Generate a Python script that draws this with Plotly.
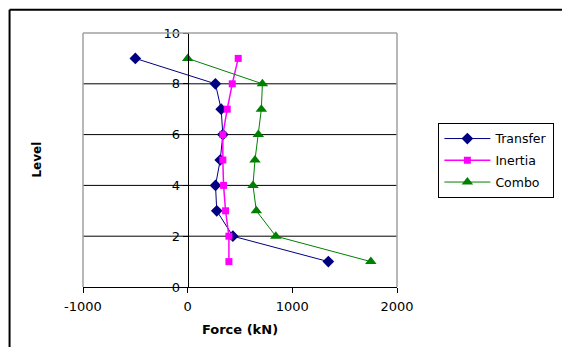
import plotly.graph_objects as go

# Storey levels and force distributions (kN)
levels = [9, 8, 7, 6, 5, 4, 3, 2, 1]
transfer = [-500, 265, 320, 336, 311, 266, 278, 432, 1344]
inertia = [483, 426, 378, 336, 336, 343, 362, 394, 394]
combo = [0, 714, 704, 675, 643, 624, 656, 842, 1750]

x_ticks = [-1000, 0, 1000, 2000]
y_ticks = [0, 2, 4, 6, 8, 10]

W, H = 562, 347
L, R, T, B = 83.3, 165.3, 33.3, 60.3
pw, ph = W - L - R, H - T - B


def px(x):
    return (x - L) / pw


def py(y):
    return (H - B - y) / ph


font = "DejaVu Sans, Arial, sans-serif"

fig = go.Figure()
fig.add_trace(go.Scatter(
    x=transfer, y=levels, name="Transfer", mode="lines+markers", legendgroup="a",
    line=dict(color="#000080", width=1),
    marker=dict(symbol="diamond", size=9, color="#000080"),
))
fig.add_trace(go.Scatter(
    x=inertia, y=levels, name="Inertia", mode="lines+markers", legendgroup="b",
    line=dict(color="#FF00FF", width=1.5),
    marker=dict(symbol="square", size=7, color="#FF00FF"),
))
fig.add_trace(go.Scatter(
    x=combo, y=levels, name="Combo", mode="lines+markers", legendgroup="c",
    line=dict(color="#008000", width=1),
    marker=dict(symbol="triangle-up", size=10, color="#008000"),
))

gray = "#A0A0A0"
shapes = []
# horizontal gridlines at the interior ticks
for v in y_ticks[1:-1]:
    shapes.append(dict(type="line", xref="paper", yref="y", x0=0, x1=1, y0=v, y1=v,
                       layer="below", line=dict(color="black", width=1)))
shapes += [
    # plot area border (top, right, left)
    dict(type="line", xref="paper", yref="paper", x0=0, x1=1, y0=1, y1=1,
         line=dict(color=gray, width=1.5)),
    dict(type="line", xref="paper", yref="paper", x0=1, x1=1, y0=0, y1=1,
         line=dict(color=gray, width=1.5)),
    dict(type="line", xref="paper", yref="paper", x0=0, x1=0, y0=0, y1=1,
         line=dict(color=gray, width=1.5)),
    # outer chart frame
    dict(type="line", xref="paper", yref="paper", x0=px(10), x1=px(W + 5),
         y0=py(10), y1=py(10), line=dict(color="black", width=2)),
    dict(type="line", xref="paper", yref="paper", x0=px(10), x1=px(10),
         y0=py(10), y1=py(H + 5), line=dict(color="black", width=2)),
]

fig.update_layout(
    width=W, height=H,
    margin=dict(l=L, r=R, t=T, b=B, pad=0, autoexpand=False),
    paper_bgcolor="white", plot_bgcolor="white",
    font=dict(family=font, size=13, color="black"),
    showlegend=True,
    legend=dict(
        x=px(438), y=py(123), xanchor="left", yanchor="top",
        bordercolor="black", borderwidth=1, bgcolor="white",
        font=dict(size=12.5, family=font),
        itemwidth=46, tracegroupgap=2.5,
    ),
    xaxis=dict(
        range=[-1000, 2000], tickvals=x_ticks, ticktext=["-1000", "0", "1000", "2000"],
        showgrid=False, zeroline=False, showline=True, linecolor="black", linewidth=1,
        ticks="outside", ticklen=5, tickcolor="black", ticklabelstandoff=2,
        title=dict(text="<b>Force (kN)</b>", font=dict(size=13), standoff=12),
    ),
    yaxis=dict(
        range=[0, 10], tickvals=y_ticks, anchor="free", position=1 / 3,
        showgrid=False, zeroline=False,
        showline=True, linecolor="black", linewidth=1,
        ticks="outside", ticklen=5, tickcolor="black",
    ),
    shapes=shapes,
    annotations=[
        dict(text="<b>Level</b>", xref="paper", yref="paper", x=px(37), y=py(160),
             xanchor="center", yanchor="middle",
             showarrow=False, textangle=-90, font=dict(size=12)),
    ],
)

fig.write_html("out.html")
